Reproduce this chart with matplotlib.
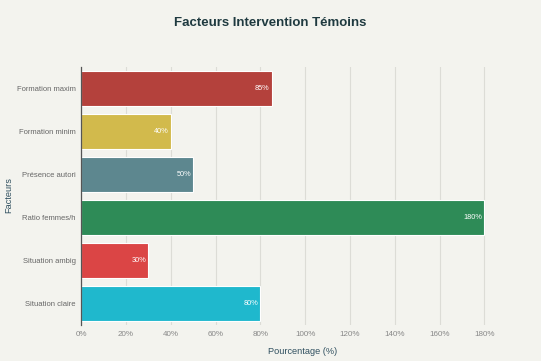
import matplotlib
matplotlib.use("Agg")
import matplotlib.pyplot as plt

categories = ["Formation maxim", "Formation minim", "Présence autori",
              "Ratio femmes/h", "Situation ambig", "Situation claire"]
values = [85, 40, 50, 180, 30, 80]
colors = ["#B4413C", "#D2BA4C", "#5D878F", "#2E8B57", "#DB4545", "#1FB8CD"]
xticks = [0, 20, 40, 60, 80, 100, 120, 140, 160, 180]

plt.rcParams['font.family'] = ['Liberation Sans', 'DejaVu Sans']
bg = "#F3F3EE"
fig = plt.figure(figsize=(5.41, 3.61), dpi=100, facecolor=bg)
ax = fig.add_axes([0.15, 0.0997, 0.82, 0.7143], facecolor=bg)

n = len(categories)
ypos = [n - 1 - i for i in range(n)]
ax.barh(ypos, values, height=0.8, color=colors, edgecolor="white", linewidth=0.8, zorder=3)
for y, v in zip(ypos, values):
    ax.text(v - 1.0, y, f"{v}%", ha="right", va="center", color="white",
            fontsize=5.3, zorder=4)

ax.set_xlim(0, 198)
ax.set_ylim(-0.5, n - 0.5)
ax.set_yticks(ypos)
ax.set_yticklabels(categories, fontsize=5.5, color="#666666")
ax.set_xticks(xticks)
ax.set_xticklabels([f"{t}%" for t in xticks], fontsize=5.8, color="#888888")
ax.tick_params(axis="both", length=0, pad=4)
ax.grid(axis="x", color="#DCDCD6", linewidth=0.8, zorder=0)
for s in ["top", "right", "bottom"]:
    ax.spines[s].set_visible(False)
ax.spines["left"].set_color("#555555")
ax.spines["left"].set_linewidth(0.9)
ax.spines["left"].set_zorder(5)

ax.set_xlabel("Pourcentage (%)", fontsize=6.6, color="#2F4F5F", labelpad=7)
fig.text(0.017, 0.46, "Facteurs", rotation=90, ha="center", va="center",
         fontsize=6.6, color="#2F4F5F")
fig.text(0.5, 0.935, "Facteurs Intervention Témoins", ha="center", va="center",
         fontsize=9.5, color="#1F3A40", fontweight="bold")

fig.savefig("out.png", dpi=100, facecolor=bg)
